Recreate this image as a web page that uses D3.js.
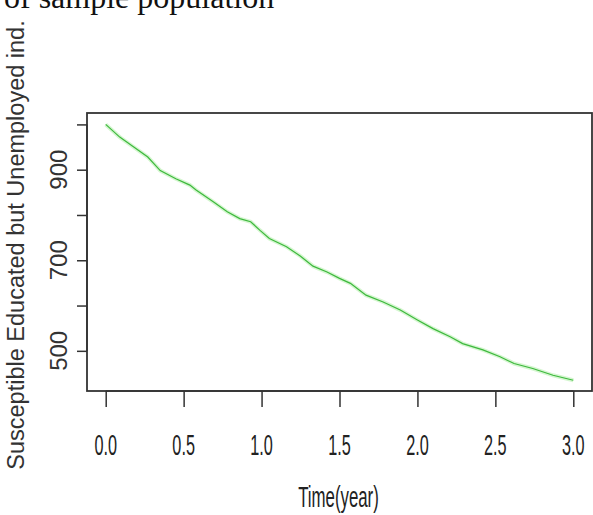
<!DOCTYPE html>
<html>
<head>
<meta charset="utf-8">
<script src="https://cdn.jsdelivr.net/npm/d3@7"></script>
<style>
  html, body { margin: 0; padding: 0; background: #fff; }
  svg { display: block; }
</style>
</head>
<body>
<script>
// ---- data ----
const times = [0.00, 0.09, 0.18, 0.27, 0.35, 0.45, 0.54, 0.58, 0.69, 0.78, 0.86, 0.93, 0.99, 1.05, 1.16, 1.25, 1.33, 1.42, 1.50, 1.57, 1.67, 1.78, 1.89, 2.00, 2.10, 2.21, 2.29, 2.42, 2.53, 2.62, 2.74, 2.87, 3.00];
const susceptible = [1000, 972, 950, 928, 898, 880, 866, 855, 829, 807, 792, 785, 766, 748, 730, 709, 687, 674, 660, 649, 623, 608, 590, 568, 549, 531, 516, 502, 487, 472, 461, 446, 435];
const xTicks = [0, 0.5, 1.0, 1.5, 2.0, 2.5, 3.0];
const yTicks = [500, 600, 700, 800, 900, 1000];
const yTickLabels = [500, 700, 900];
const xTitle = "Time(year)";
const yTitle = "Susceptible Educated but Unemployed ind.";
const topFragment = "of sample population";

const W = 593, H = 515;
const box = {left: 87, right: 592, top: 113, bottom: 391};

const svg = d3.select("body").append("svg").attr("width", W).attr("height", H);

// clipped document text fragment at top (cut off in the reference too)
svg.append("text")
  .attr("x", 4).attr("y", 8)
  .attr("font-family", "Liberation Serif, Times New Roman, serif")
  .attr("font-size", 32).attr("fill", "#111")
  .text(topFragment);

const x = d3.scaleLinear().domain([-0.12, 3.12]).range([box.left, box.right]);
const y = d3.scaleLinear().domain([411.3, 1025.2]).range([box.bottom, box.top]);

// line (with a soft halo like the original)
const line = d3.line().x((d, i) => x(times[i])).y(d => y(d));
svg.append("path").datum(susceptible)
  .attr("d", line).attr("fill", "none")
  .attr("stroke", "#b9f0b0").attr("stroke-width", 4).attr("opacity", 0.6);
svg.append("path").datum(susceptible)
  .attr("d", line).attr("fill", "none")
  .attr("stroke", "#3db83d").attr("stroke-width", 1.2);

// box
svg.append("rect")
  .attr("x", box.left).attr("y", box.top)
  .attr("width", box.right - box.left).attr("height", box.bottom - box.top)
  .attr("fill", "none").attr("stroke", "#333").attr("stroke-width", 1.8);

// x axis
const xAxis = d3.axisBottom(x).tickValues(xTicks).tickSize(16).tickFormat("");
const gx = svg.append("g").attr("transform", `translate(0,${box.bottom})`).call(xAxis);
gx.select(".domain").attr("stroke", "#333").attr("stroke-width", 1.5)
  .attr("d", `M${x(xTicks[0])},0H${x(xTicks[xTicks.length-1])}`);
gx.selectAll(".tick line").attr("stroke", "#333").attr("stroke-width", 1.5);
svg.append("g").selectAll("text").data(xTicks).join("text")
  .attr("transform", d => `translate(${x(d)},455) scale(0.56,1)`)
  .attr("text-anchor", "middle")
  .attr("font-family", "Liberation Sans, Arial, sans-serif")
  .attr("font-size", 29).attr("fill", "#222")
  .text(d => d3.format(".1f")(d));

svg.append("text")
  .attr("transform", `translate(${(box.left + box.right) / 2 - 1},507) scale(0.58,1)`)
  .attr("text-anchor", "middle")
  .attr("font-family", "Liberation Sans, Arial, sans-serif")
  .attr("font-size", 29).attr("fill", "#222")
  .text(xTitle);

// y axis
const yAxis = d3.axisLeft(y).tickValues(yTicks).tickSize(10).tickFormat("");
const gy = svg.append("g").attr("transform", `translate(${box.left},0)`).call(yAxis);
gy.select(".domain").attr("stroke", "#333").attr("stroke-width", 1.5)
  .attr("d", `M0,${y(yTicks[0])}V${y(yTicks[yTicks.length-1])}`);
gy.selectAll(".tick line").attr("stroke", "#333").attr("stroke-width", 1.5);
svg.append("g").selectAll("text").data(yTickLabels).join("text")
  .attr("transform", d => `translate(67,${y(d)}) rotate(-90)`)
  .attr("text-anchor", "middle")
  .attr("font-family", "Liberation Sans, Arial, sans-serif")
  .attr("font-size", 24).attr("fill", "#333")
  .text(d => d);

svg.append("text")
  .attr("transform", `translate(24,245) rotate(-90)`)
  .attr("text-anchor", "middle")
  .attr("font-family", "Liberation Sans, Arial, sans-serif")
  .attr("font-size", 23.5).attr("fill", "#333")
  .text(yTitle);
</script>
</body>
</html>
